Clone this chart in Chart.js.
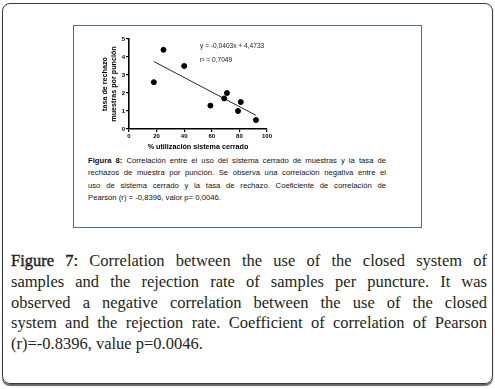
<!DOCTYPE html>
<html>
<head>
<meta charset="utf-8">
<script src="https://cdn.jsdelivr.net/npm/chart.js@4"></script>
<style>
  html, body { margin: 0; padding: 0; background: #fff; }
  body { width: 495px; height: 389px; position: relative; overflow: hidden; }
  #marco {
    position: absolute; left: 2px; top: 3px; width: 489px; height: 379px;
    border: 1.3px solid #3a3a3a; border-radius: 8px;
    box-shadow: 0 1.5px 1px #666;
  }
  #figura {
    position: absolute; left: 73px; top: 25px; width: 347px; height: 201px;
    border: 1px solid #4d6b8f;
  }
  #grafica { position: absolute; left: 80px; top: 30px; }
  #leyendaEs {
    position: absolute; left: 88px; top: 154.5px; width: 298px;
    font-family: "Liberation Sans", Arial, sans-serif; font-size: 7.7px;
    line-height: 12.6px; color: #111;
  }
  #leyendaEn {
    position: absolute; left: 11px; top: 251px; width: 476px;
    font-family: "Liberation Serif", "Times New Roman", serif; font-size: 16.5px;
    line-height: 20.75px; color: #231f20;
  }
  .linea { text-align: justify; text-align-last: justify; white-space: nowrap; }
  .ultima { text-align: left; white-space: nowrap; }
  .semi { -webkit-text-stroke: 0.4px #231f20; }
</style>
</head>
<body>
<div id="marco"></div>
<div id="figura"></div>
<canvas id="grafica" width="200" height="125"></canvas>

<div id="leyendaEs">
  <div class="linea"><b>Figura 8:</b> Correlación entre el uso del sistema cerrado de muestras y la tasa de</div>
  <div class="linea">rechazos de muestra por punción. Se observa una correlación negativa entre el</div>
  <div class="linea">uso de sistema cerrado y la tasa de rechazo. Coeficiente de correlación de</div>
  <div class="ultima">Pearson (r) = -0,8396, valor p= 0,0046.</div>
</div>

<div id="leyendaEn">
  <div class="linea"><span class="semi">Figure 7:</span> Correlation between the use of the closed system of</div>
  <div class="linea">samples and the rejection rate of samples per puncture. It was</div>
  <div class="linea">observed a negative correlation between the use of the closed</div>
  <div class="linea">system and the rejection rate. Coefficient of correlation of Pearson</div>
  <div class="ultima">(r)=-0.8396, value p=0.0046.</div>
</div>

<script>
// Datos
const usoSistema = [18, 25, 40, 59, 69, 71, 79, 81, 92];          // % utilización sistema cerrado
const tasaRechazo = [2.6, 4.4, 3.5, 1.3, 1.7, 2.0, 1.0, 1.5, 0.5]; // muestras por punción
const rectaX = [18, 92];
const rectaY = [3.75, 0.76];
const ticksX = [0, 20, 40, 60, 80, 100];
const ticksY = [0, 1, 2, 3, 4, 5];
const textosRecta = ['y = -0,0403x + 4,4733', 'r\u00b2 = 0,7049'];

const FUENTE = '"Liberation Sans", Arial, sans-serif';

// Texto de la ecuación sobre la gráfica
const pluginEcuacion = {
  id: 'ecuacion',
  afterDatasetsDraw(chart) {
    const { ctx, scales } = chart;
    const x = scales.x.getPixelForValue(51.5);
    ctx.save();
    ctx.font = '6.6px ' + FUENTE;
    ctx.fillStyle = '#222';
    ctx.textBaseline = 'middle';
    ctx.textAlign = 'left';
    ctx.fillText(textosRecta[0], x, scales.y.getPixelForValue(4.6));
    ctx.fillText(textosRecta[1], x, scales.y.getPixelForValue(3.83));
    ctx.restore();
  }
};

const ejeComun = {
  grid: { drawOnChartArea: false, drawTicks: true, tickLength: 3, color: '#000', lineWidth: 1.2 },
  border: { color: '#000', width: 1.6 }
};

new Chart(document.getElementById('grafica'), {
  type: 'scatter',
  data: {
    datasets: [
      {
        data: usoSistema.map((x, i) => ({ x: x, y: tasaRechazo[i] })),
        backgroundColor: '#000',
        borderColor: '#000',
        pointRadius: 2.5,
        pointHoverRadius: 2.5
      },
      {
        type: 'line',
        data: rectaX.map((x, i) => ({ x: x, y: rectaY[i] })),
        borderColor: '#111',
        borderWidth: 0.9,
        pointRadius: 0,
        fill: false
      }
    ]
  },
  options: {
    responsive: false,
    animation: false,
    layout: { padding: { left: 0, top: 9, right: 13, bottom: 0 } },
    plugins: { legend: { display: false }, tooltip: { enabled: false } },
    scales: {
      x: {
        ...ejeComun,
        type: 'linear', min: 0, max: 100,
        afterBuildTicks: s => { s.ticks = ticksX.map(v => ({ value: v })); },
        afterFit: s => { s.height = 26; },
        ticks: { color: '#000', padding: 1, font: { family: FUENTE, size: 6, weight: 'bold' } },
        title: {
          display: true, text: '% utilización sistema cerrado', color: '#000',
          padding: { top: 0, bottom: 4 },
          font: { family: FUENTE, size: 7.2, weight: 'bold' }
        }
      },
      y: {
        ...ejeComun,
        type: 'linear', min: 0, max: 5,
        afterBuildTicks: s => { s.ticks = ticksY.map(v => ({ value: v })); },
        afterFit: s => { s.width = 49; },
        ticks: { color: '#000', padding: 1, font: { family: FUENTE, size: 6, weight: 'bold' } },
        title: {
          display: true, text: ['tasa de rechazo', 'muestras por punción'], color: '#000',
          padding: { top: 20.8, bottom: 0 },
          font: { family: FUENTE, size: 7.2, weight: 'bold', lineHeight: 1.2 }
        }
      }
    }
  },
  plugins: [pluginEcuacion]
});
</script>
</body>
</html>
